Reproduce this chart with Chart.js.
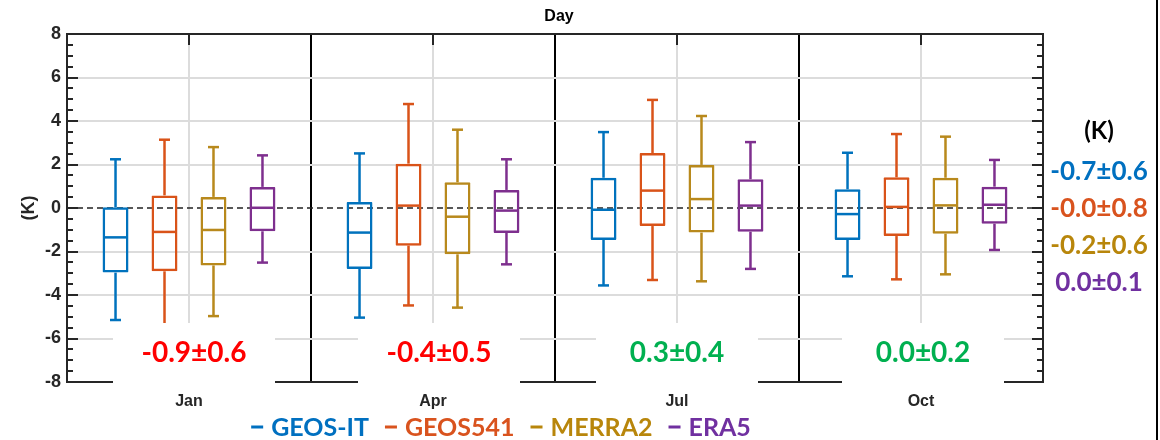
<!DOCTYPE html>
<html>
<head>
<meta charset="utf-8">
<script src="https://cdn.jsdelivr.net/npm/chart.js@4.4.1/dist/chart.umd.min.js"></script>
<style>
  body { margin: 0; background: #fff; }
  #wrap { width: 1160px; height: 440px; }
</style>
</head>
<body>
<div id="wrap"><canvas id="box-chart"></canvas></div>
<script>
var months = ['Jan', 'Apr', 'Jul', 'Oct'];
var seriesNames = ['GEOS-IT', 'GEOS541', 'MERRA2', 'ERA5'];
var seriesColors = ['#0072BD', '#D95319', '#B8891C', '#7E2F8E'];
var labelColors = ['#0070C0', '#D9531E', '#B8860B', '#7030A0'];

// [low whisker, Q1, median, Q3, high whisker] for each month
var geosIT  = [[-5.15, -2.97, -1.35, 0.03, 2.24], [-5.04, -2.80, -1.13, 0.28, 2.51], [-3.56, -1.47, -0.08, 1.39, 3.49], [-3.14, -1.47, -0.28, 0.86, 2.54]];
var geos541 = [[-5.50, -2.91, -1.10, 0.58, 3.14], [-4.48, -1.73, 0.11, 2.04, 4.78], [-3.31, -0.83, 0.80, 2.53, 4.97], [-3.28, -1.29, 0.05, 1.41, 3.40]];
var merra2  = [[-4.97, -2.64, -1.01, 0.51, 2.80], [-4.58, -2.13, -0.40, 1.18, 3.60], [-3.37, -1.13, 0.41, 1.98, 4.23], [-3.05, -1.18, 0.12, 1.39, 3.28]];
var era5    = [[-2.51, -1.07, 0.01, 0.97, 2.42], [-2.59, -1.15, -0.12, 0.83, 2.24], [-2.80, -1.09, 0.11, 1.32, 3.03], [-1.93, -0.72, 0.15, 0.98, 2.21]];
var allStats = [geosIT, geos541, merra2, era5];

var monthBias = ['-0.9±0.6', '-0.4±0.5', '0.3±0.4', '0.0±0.2'];
var monthBiasColors = ['#FF0000', '#FF0000', '#00B050', '#00B050'];
var seriesBias = ['-0.7±0.6', '-0.0±0.8', '-0.2±0.6', '0.0±0.1'];

var yMin = -8, yMax = 8, yStep = 2;

var axisColor = '#262626';
var gridColor = '#dcdcdc';

function line(ctx, x1, y1, x2, y2) {
  ctx.beginPath();
  ctx.moveTo(x1, y1);
  ctx.lineTo(x2, y2);
  ctx.stroke();
}

var boxPlot = {
  id: 'boxPlot',
  beforeDatasetsDraw: function(chart) {
    var ctx = chart.ctx, a = chart.chartArea, x = chart.scales.x, y = chart.scales.y;
    ctx.save();
    ctx.strokeStyle = gridColor;
    ctx.lineWidth = 2;
    months.forEach(function(m, i) {
      var px = Math.round(x.getPixelForValue(i));
      line(ctx, px, a.top, px, a.bottom);
    });
    // zero line
    var y0 = Math.round(y.getPixelForValue(0));
    ctx.strokeStyle = '#222';
    ctx.lineWidth = 1.6;
    ctx.setLineDash([6, 4]);
    line(ctx, a.left, y0, a.right, y0);
    ctx.restore();
  },
  afterDatasetsDraw: function(chart) {
    var ctx = chart.ctx, y = chart.scales.y;
    ctx.save();
    ctx.lineWidth = 2.5;
    allStats.forEach(function(stats, d) {
      var meta = chart.getDatasetMeta(d);
      ctx.strokeStyle = seriesColors[d];
      meta.data.forEach(function(bar, i) {
        var s = stats[i];
        var bx = bar.x, hw = bar.width / 2 - 1.2;
        line(ctx, bx, y.getPixelForValue(s[3]), bx, y.getPixelForValue(s[4]));
        line(ctx, bx, y.getPixelForValue(s[1]), bx, y.getPixelForValue(s[0]));
        line(ctx, bx - 5.5, y.getPixelForValue(s[4]), bx + 5.5, y.getPixelForValue(s[4]));
        line(ctx, bx - 5.5, y.getPixelForValue(s[0]), bx + 5.5, y.getPixelForValue(s[0]));
        line(ctx, bx - hw, y.getPixelForValue(s[2]), bx + hw, y.getPixelForValue(s[2]));
      });
    });
    ctx.restore();
  },
  afterDraw: function(chart) {
    var ctx = chart.ctx, a = chart.chartArea, x = chart.scales.x, y = chart.scales.y;
    ctx.save();

    // frame
    ctx.strokeStyle = axisColor;
    ctx.lineWidth = 2;
    ctx.strokeRect(a.left, a.top, a.right - a.left, a.bottom - a.top);

    // inward ticks, left and right
    for (var v = yMin; v <= yMax; v += 0.5) {
      var py = Math.round(y.getPixelForValue(v));
      var len = (v % yStep === 0) ? 11 : 6;
      line(ctx, a.left, py, a.left + len, py);
      line(ctx, a.right, py, a.right - len, py);
    }
    // top ticks at month centres
    months.forEach(function(m, i) {
      var px = Math.round(x.getPixelForValue(i));
      line(ctx, px, a.top, px, a.top + 11);
    });

    // bias boxes at the bottom of each panel
    var nudge = [5, 6, 0, 2];
    ctx.font = 'bold 28px Lato';
    ctx.textAlign = 'center';
    ctx.textBaseline = 'middle';
    monthBias.forEach(function(t, i) {
      var cx = x.getPixelForValue(i) + nudge[i];
      ctx.fillStyle = '#fff';
      ctx.fillRect(cx - 81, 323, 162, 61);
      ctx.fillStyle = monthBiasColors[i];
      ctx.fillText(t, cx, 353);
    });

    // right side text
    ctx.fillStyle = '#000';
    ctx.font = 'bold 24px Lato';
    ctx.fillText('(K)', 1099, 131);
    ctx.font = 'bold 26px Lato';
    var rowY = [172, 209, 246, 283];
    seriesBias.forEach(function(t, i) {
      ctx.fillStyle = labelColors[i];
      ctx.fillText(t, 1099, rowY[i]);
    });

    // title
    ctx.fillStyle = '#000';
    ctx.font = 'bold 16px "Liberation Sans"';
    ctx.fillText('Day', 559, 17);

    // legend
    ctx.font = 'bold 25px Lato';
    ctx.textAlign = 'left';
    var widths = seriesNames.map(function(n) { return 20 + ctx.measureText(n).width; });
    var total = widths.reduce(function(p, c) { return p + c; }, 0) + 16 * (seriesNames.length - 1);
    var lx = 501 - total / 2;
    seriesNames.forEach(function(n, i) {
      ctx.strokeStyle = labelColors[i];
      ctx.lineWidth = 3;
      line(ctx, lx, 427, lx + 12, 427);
      ctx.fillStyle = labelColors[i];
      ctx.fillText(n, lx + 20, 428);
      lx += widths[i] + 16;
    });

    // page border on the far right
    ctx.strokeStyle = '#000';
    ctx.lineWidth = 2;
    line(ctx, 1157, 0, 1157, 440);
    ctx.restore();
  }
};

var datasets = allStats.map(function(stats, d) {
  return {
    label: seriesNames[d],
    data: stats.map(function(s) { return [s[1], s[3]]; }),
    borderColor: seriesColors[d],
    backgroundColor: 'rgba(0,0,0,0)',
    borderWidth: 2.5,
    borderSkipped: false,
    borderRadius: 1,
    barPercentage: 0.53,
    categoryPercentage: 0.803
  };
});

var mychart = document.getElementById('box-chart');
var boxChart = new Chart(mychart, {
  type: 'bar',
  data: {
    labels: months,
    datasets: datasets
  },
  options: {
    responsive: true,
    maintainAspectRatio: false,
    animation: false,
    layout: { padding: { top: 34, right: 117, left: 0, bottom: 0 } },
    plugins: {
      legend: { display: false },
      tooltip: { enabled: false },
      title: { display: false }
    },
    scales: {
      x: {
        grid: { offset: true, color: '#000', lineWidth: 2, drawTicks: false },
        border: { display: false },
        ticks: { color: axisColor, padding: 10, font: { family: 'Liberation Sans', size: 16, weight: 'bold' } },
        afterFit: function(s) { s.height = 58; }
      },
      y: {
        min: yMin,
        max: yMax,
        grid: {
          drawTicks: false,
          lineWidth: 2,
          color: function(c) {
            var v = c.tick.value;
            return (v === 0 || v === yMin || v === yMax) ? 'rgba(0,0,0,0)' : gridColor;
          }
        },
        border: { display: false },
        ticks: { stepSize: yStep, color: axisColor, padding: 6, font: { family: 'Liberation Sans', size: 18, weight: 'bold' } },
        title: { display: true, text: '(K)', color: axisColor, padding: { top: 18, bottom: 0 }, font: { family: 'Liberation Sans', size: 18, weight: 'bold' } },
        afterFit: function(s) { s.width = 67; }
      }
    }
  },
  plugins: [boxPlot]
});
</script>
</body>
</html>
